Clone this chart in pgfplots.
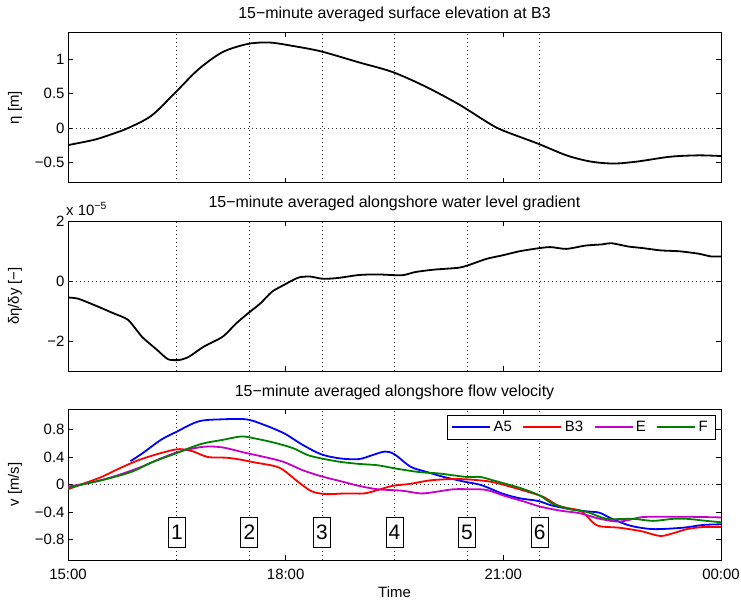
\documentclass[border=0pt]{standalone}
\usepackage{fontspec}
\setmainfont{Liberation Sans}
\usepackage{pgfplots}
\pgfplotsset{compat=1.18}

\definecolor{cA}{rgb}{0,0,1}
\definecolor{cB}{rgb}{1,0,0}
\definecolor{cE}{rgb}{0.78,0,0.78}
\definecolor{cF}{rgb}{0,0.5,0}

\pgfplotsset{
  panel/.style={
    scale only axis, width=653bp, anchor=south west,
    xmin=15, xmax=24,
    xtick={15,18,21,24},
    tick align=inside,
    major tick length=5bp,
    axis line style={line width=0.8bp},
    every tick/.style={black, line width=0.8bp},
    extra x ticks={16.5,17.5,18.5,19.5,20.5,21.5},
    extra x tick labels={},
    extra y ticks={0},
    extra y tick labels={},
    extra x tick style={grid=major, major tick length=0pt},
    extra y tick style={grid=major, major tick length=0pt},
    major grid style={black!85, line width=0.7bp, dash pattern=on 0.7bp off 3.3bp},
    every axis y label/.style={at={(rel axis cs:0,0.5)}, xshift=-53bp, anchor=center, rotate=90},
    every axis title/.style={at={(rel axis cs:0.5,1)}, anchor=base, font=\fontsize{16}{19}\selectfont},
    xticklabel style={anchor=base, yshift=-19.5bp},
  },
  flowlegend/.style={
    legend image code/.code={\draw[##1] (0bp,0bp) -- (38bp,0bp);},
  },
}

\begin{document}
\begin{tikzpicture}[font=\fontsize{15}{18}\selectfont]
\path[use as bounding box] (0,0) rectangle (741bp,600bp);

% surface elevation
\begin{axis}[panel, at={(68bp,417.3bp)}, height=150.4bp,
  ymin=-0.8, ymax=1.4,
  ytick={-0.5,0,0.5,1}, yticklabels={−0.5,0,0.5,1},
  xticklabels={},
  ylabel={η [m]},
  title={15−minute averaged surface elevation at B3},
  title style={yshift=14bp}]
\addplot[black, line width=1.8bp, smooth] coordinates {
(15.00,-0.25) (15.37,-0.17) (15.63,-0.08) (15.83,0.00) (16.15,0.18)
(16.48,0.52) (16.80,0.86) (17.13,1.11) (17.48,1.23) (17.78,1.25)
(18.10,1.20) (18.49,1.12) (19.01,0.96) (19.47,0.82) (19.92,0.61)
(20.38,0.35) (20.77,0.09) (20.98,-0.03) (21.48,-0.23) (21.87,-0.40)
(22.20,-0.49) (22.52,-0.52) (22.85,-0.49) (23.30,-0.42) (23.69,-0.40)
(24.00,-0.41)};
\end{axis}

% alongshore water level gradient (units of 1e-5)
\begin{axis}[panel, at={(68bp,229bp)}, height=150bp,
  ymin=-3, ymax=2,
  ytick={-2,0,2}, yticklabels={−2,0,2},
  xticklabels={},
  ylabel={δη/δy [−]},
  title={15−minute averaged alongshore water level gradient},
  title style={yshift=13.7bp},
  after end axis/.code={
    \node[anchor=base west, inner sep=0pt, xshift=-2bp, yshift=5bp]
      at (rel axis cs:0,1) {x 10\raisebox{0.45em}{\fontsize{10.5}{12}\selectfont −5}};
  }]
\addplot[black, line width=1.8bp, smooth, tension=0.4] coordinates {
(15.00,-0.55) (15.14,-0.59) (15.37,-0.81) (15.63,-1.08) (15.83,-1.30)
(16.02,-1.86) (16.22,-2.28) (16.38,-2.61) (16.54,-2.63) (16.67,-2.52)
(16.87,-2.19) (17.13,-1.86) (17.32,-1.41) (17.48,-1.08) (17.65,-0.75)
(17.81,-0.36) (17.97,-0.14) (18.17,0.11) (18.33,0.15) (18.49,0.08)
(18.62,0.08) (18.75,0.11) (19.01,0.20) (19.27,0.22) (19.60,0.19)
(19.79,0.30) (20.05,0.38) (20.38,0.44) (20.51,0.52) (20.77,0.74)
(20.98,0.85) (21.22,0.99) (21.48,1.09) (21.65,1.13) (21.87,1.07)
(22.13,1.18) (22.36,1.22) (22.49,1.26) (22.72,1.15) (22.91,1.10)
(23.17,1.02) (23.43,0.99) (23.69,0.91) (23.86,0.82) (24.00,0.82)};
\end{axis}

% alongshore flow velocity
\begin{axis}[panel, flowlegend, at={(68bp,40bp)}, height=151bp,
  ymin=-1.1, ymax=1.1,
  ytick={-0.8,-0.4,0,0.4,0.8}, yticklabels={−0.8,−0.4,0,0.4,0.8},
  xticklabels={15:00,18:00,21:00,00:00},
  xlabel={Time},
  xlabel style={at={(rel axis cs:0.5,0)}, anchor=base, yshift=-37bp},
  ylabel={v [m/s]},
  title={15−minute averaged alongshore flow velocity},
  title style={yshift=12bp},
  legend columns=4,
  legend style={at={(rel axis cs:1,1)}, anchor=north east, xshift=-6bp, yshift=-6bp,
    inner xsep=4.5bp, inner ysep=2bp,
    nodes={inner xsep=2.5bp, inner ysep=4bp},
    /tikz/every even column/.append style={column sep=8bp}}]
\addplot[cA, line width=1.8bp, smooth] coordinates {
(15.86,0.34) (16.02,0.45) (16.28,0.65) (16.48,0.76) (16.80,0.92)
(17.13,0.95) (17.45,0.95) (17.65,0.89) (17.97,0.75) (18.23,0.58)
(18.49,0.44) (18.75,0.38) (19.01,0.37) (19.20,0.43) (19.37,0.48)
(19.50,0.44) (19.72,0.26) (19.92,0.19) (20.18,0.11) (20.47,0.04)
(20.70,-0.01) (20.98,-0.13) (21.22,-0.20) (21.48,-0.24) (21.65,-0.30)
(21.87,-0.35) (22.13,-0.39) (22.32,-0.41) (22.50,-0.50) (22.75,-0.60)
(23.06,-0.65) (23.47,-0.63) (23.75,-0.59) (24.00,-0.58)};
\addlegendentry{A5}
\addplot[cB, line width=1.8bp, smooth] coordinates {
(15.00,-0.07) (15.18,0.00) (15.44,0.10) (15.70,0.23) (15.96,0.35)
(16.22,0.44) (16.48,0.51) (16.60,0.51) (16.73,0.48) (16.93,0.40)
(17.19,0.39) (17.39,0.36) (17.58,0.32) (17.84,0.27) (17.97,0.21)
(18.17,0.04) (18.36,-0.10) (18.56,-0.14) (18.82,-0.13) (19.08,-0.13)
(19.27,-0.08) (19.47,-0.02) (19.72,0.01) (19.99,0.06) (20.31,0.08)
(20.57,0.07) (20.83,0.04) (21.09,-0.03) (21.35,-0.11) (21.55,-0.18)
(21.74,-0.30) (21.87,-0.34) (22.06,-0.38) (22.15,-0.46) (22.30,-0.60)
(22.60,-0.63) (22.90,-0.68) (23.16,-0.75) (23.34,-0.71) (23.53,-0.65)
(23.75,-0.62) (24.00,-0.62)};
\addlegendentry{B3}
\addplot[cE, line width=1.8bp, smooth] coordinates {
(15.00,-0.03) (15.37,0.04) (15.70,0.14) (16.02,0.26) (16.28,0.38)
(16.54,0.48) (16.87,0.55) (17.13,0.54) (17.45,0.46) (17.71,0.40)
(17.97,0.33) (18.23,0.21) (18.49,0.12) (18.75,0.05) (19.01,-0.02)
(19.27,-0.07) (19.60,-0.09) (19.86,-0.13) (20.05,-0.11) (20.31,-0.07)
(20.57,-0.07) (20.77,-0.08) (21.03,-0.17) (21.29,-0.25) (21.50,-0.32)
(21.78,-0.38) (22.06,-0.42) (22.33,-0.50) (22.60,-0.54) (22.88,-0.48)
(23.06,-0.47) (23.53,-0.47) (24.00,-0.48)};
\addlegendentry{E}
\addplot[cF, line width=1.8bp, smooth] coordinates {
(15.00,-0.05) (15.24,0.01) (15.57,0.09) (15.89,0.19) (16.15,0.32)
(16.48,0.45) (16.67,0.53) (16.87,0.60) (17.13,0.65) (17.39,0.70)
(17.58,0.67) (17.84,0.61) (18.10,0.53) (18.30,0.43) (18.49,0.38)
(18.75,0.33) (19.01,0.30) (19.27,0.28) (19.53,0.23) (19.85,0.18)
(20.12,0.16) (20.49,0.11) (20.68,0.11) (20.86,0.06) (21.23,-0.05)
(21.50,-0.16) (21.68,-0.28) (21.92,-0.36) (22.15,-0.40) (22.43,-0.50)
(22.79,-0.50) (23.06,-0.53) (23.34,-0.50) (23.53,-0.50) (23.80,-0.53)
(24.00,-0.55)};
\addlegendentry{F}
\tikzset{num/.style={draw, fill=white, line width=0.8bp, inner sep=0pt,
  minimum width=17bp, minimum height=30bp, font=\fontsize{21}{25}\selectfont}}
\node[num] at (axis cs:16.5,-0.7) {1};
\node[num] at (axis cs:17.5,-0.7) {2};
\node[num] at (axis cs:18.5,-0.7) {3};
\node[num] at (axis cs:19.5,-0.7) {4};
\node[num] at (axis cs:20.5,-0.7) {5};
\node[num] at (axis cs:21.5,-0.7) {6};
\end{axis}
\end{tikzpicture}
\end{document}
